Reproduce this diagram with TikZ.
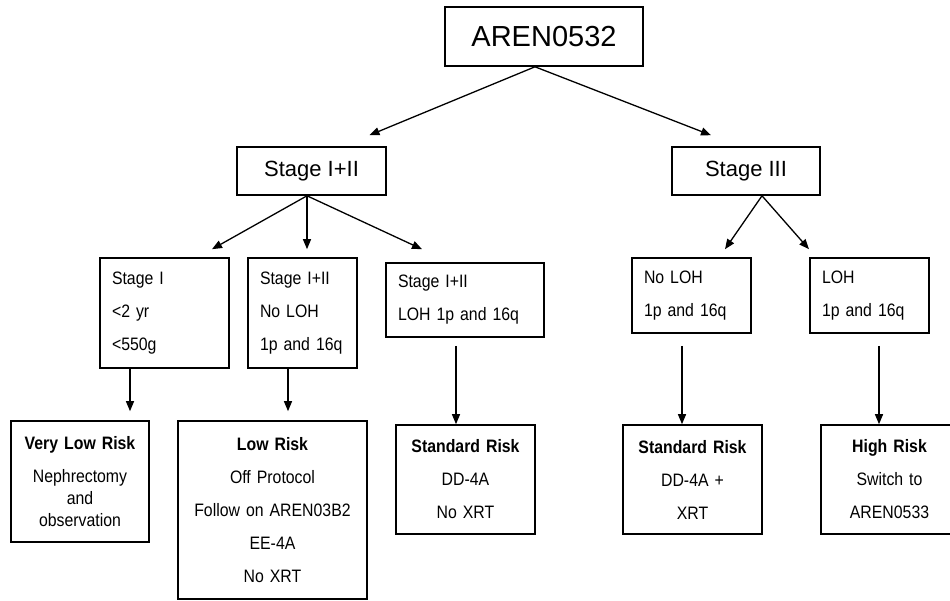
\documentclass[tikz,border=0pt]{standalone}
\usepackage{fontspec}
\setmainfont{Liberation Sans}
\newfontfamily\narrowfont[FakeStretch=0.88]{Liberation Sans}
\usetikzlibrary{arrows.meta}
\usetikzlibrary{calc}
\newcommand{\boxlw}{1.6pt}
\newcommand{\arrlw}{1.3pt}
\newcommand{\boxpad}{12pt}
\newcommand{\rowfont}{\narrowfont\fontsize{18}{33}\selectfont}

\begin{document}
\begin{tikzpicture}[x=1pt, y=1pt,
    topbox/.style={draw, line width=\boxlw, inner sep=0pt, align=center},
    condbox/.style={draw, line width=\boxlw, inner xsep=\boxpad, inner ysep=0pt,
      align=left, font=\rowfont},
    riskbox/.style={draw, line width=\boxlw, inner xsep=4pt, inner ysep=0pt,
      align=center, font=\rowfont},
    arr/.style={-{Triangle[length=10pt,width=8pt]}, line width=\arrlw}]

    \useasboundingbox (0,0) rectangle (950,600);

    % protocol and stages
    \node [topbox, minimum width=198pt, minimum height=59pt,
      font=\fontsize{29}{35}\selectfont] (aren) at (544,563.5) {AREN0532};
    \node [topbox, minimum width=149pt, minimum height=48pt,
      font=\fontsize{22}{26}\selectfont] (stA) at (311.5,429) {Stage I+II};
    \node [topbox, minimum width=148pt, minimum height=48pt,
      font=\fontsize{22}{26}\selectfont] (stB) at (746,429) {Stage III};

    % conditions
    \node [condbox, text width=105pt, minimum height=110pt] (cA) at (164.5,287)
      {Stage I\\ {<}2 yr\\ {<}550g};
    \node [condbox, text width=85pt, minimum height=110pt] (cB) at (302.5,287)
      {Stage I+II\\ No LOH\\ 1p and 16q};
    \node [condbox, text width=134pt, minimum height=74pt] (cC) at (465,300)
      {Stage I+II\\ LOH 1p and 16q};
    \node [condbox, text width=95pt, minimum height=75pt] (cD) at (691.5,304.5)
      {No LOH\\ 1p and 16q};
    \node [condbox, text width=95pt, minimum height=75pt] (cE) at (869.5,304.5)
      {LOH\\ 1p and 16q};

    % risk groups
    \node [riskbox, text width=130pt, minimum height=121pt,
      font=\narrowfont\fontsize{18}{22}\selectfont] (rA) at (80,118.5)
      {\textbf{Very Low Risk}\\[11pt] Nephrectomy\\ and\\ observation};
    \node [riskbox, text width=181pt, minimum height=178pt] (rB) at (272.5,90)
      {\textbf{Low Risk}\\ Off Protocol\\ Follow on AREN03B2\\ EE-4A\\ No XRT};
    \node [riskbox, text width=131pt, minimum height=109pt] (rC) at (465.5,120.5)
      {\textbf{Standard Risk}\\ DD-4A\\ No XRT};
    \node [riskbox, text width=131pt, minimum height=109pt] (rD) at (692.5,120.5)
      {\textbf{Standard Risk}\\ DD-4A +\\ XRT};
    \node [riskbox, text width=129pt, minimum height=109pt] (rE) at (889.5,120.5)
      {\textbf{High Risk}\\ Switch to\\ AREN0533};

    \draw [arr] ([xshift=-9pt]aren.south) -- ($(stA.north)+(58,11)$);
    \draw [arr] ([xshift=-9pt]aren.south) -- ($(stB.north)+(-35,11)$);

    \draw [arr] ([xshift=-4.5pt]stA.south) -- ($(cA.north)+(47.5,8)$);
    \draw [arr] ([xshift=-4.5pt]stA.south) -- ($(cB.north)+(4.5,8)$);
    \draw [arr] ([xshift=-4.5pt]stA.south) -- ($(cC.north)+(-43,13)$);
    \draw [arr] ([xshift=16pt]stB.south) -- ($(cD.north)+(33.5,8)$);
    \draw [arr] ([xshift=16pt]stB.south) -- ($(cE.north)+(-60.5,8)$);

    \draw [arr] ($(cA.south)+(-34.5,0)$) -- ($(rA.north)+(50,9)$);
    \draw [arr] ($(cB.south)+(-14.5,0)$) -- ($(rB.north)+(15.5,9)$);
    \draw [arr] ($(cC.south)+(-9,-8)$) -- ($(rC.north)+(-9.5,0)$);
    \draw [arr] ($(cD.south)+(-9.5,-12)$) -- ($(rD.north)+(-10.5,0)$);
    \draw [arr] ($(cE.south)+(9.5,-12)$) -- ($(rE.north)+(-10.5,0)$);

  \end{tikzpicture}
\end{document}
